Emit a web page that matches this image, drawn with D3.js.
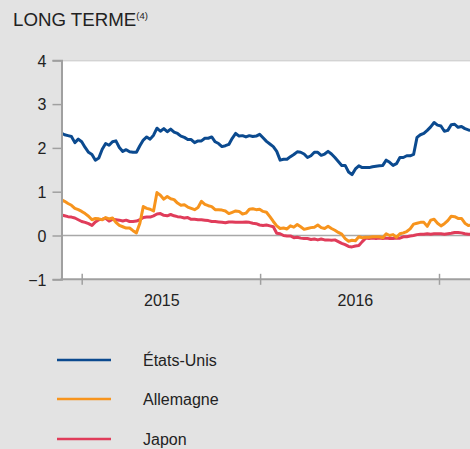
<!DOCTYPE html>
<html><head><meta charset="utf-8">
<script src="https://cdn.jsdelivr.net/npm/d3@7"></script>
<style>
body{margin:0;background:#e3e3e3;}
svg{display:block;font-family:"Liberation Sans",Arial,sans-serif;}
</style>
</head><body>
<svg id="c" width="470" height="449"></svg>
<script>
// weekly observations starting 2014-11-20
const startDate = "2014-11-20";
const stepDays = 7;
const usa = [2.34,2.30,2.28,2.26,2.12,2.20,2.14,2.01,1.90,1.85,1.72,1.77,1.97,2.10,2.06,2.14,2.16,2.01,1.92,1.96,
1.91,1.90,1.90,2.05,2.18,2.25,2.20,2.29,2.45,2.38,2.44,2.37,2.43,2.36,2.33,2.27,2.24,2.19,2.19,2.12,
2.16,2.16,2.22,2.22,2.25,2.14,2.10,2.03,2.05,2.08,2.22,2.33,2.27,2.28,2.25,2.28,2.26,2.27,2.31,2.23,
2.15,2.09,2.03,1.92,1.72,1.74,1.74,1.80,1.85,1.91,1.90,1.86,1.78,1.82,1.90,1.90,1.83,1.86,1.92,1.86,
1.78,1.69,1.60,1.60,1.45,1.39,1.52,1.59,1.55,1.55,1.55,1.57,1.58,1.59,1.60,1.72,1.67,1.60,1.64,1.78,
1.78,1.82,1.82,1.85,2.24,2.30,2.33,2.40,2.48,2.58,2.52,2.50,2.38,2.40,2.53,2.54,2.47,2.49,2.44,2.41,2.40];
const germany = [0.82,0.78,0.73,0.69,0.62,0.59,0.55,0.50,0.44,0.36,0.39,0.38,0.36,0.41,0.38,0.40,0.30,0.23,0.20,0.17,
0.17,0.11,0.06,0.28,0.66,0.62,0.60,0.56,0.98,0.92,0.83,0.89,0.84,0.82,0.74,0.69,0.70,0.65,0.62,0.59,
0.64,0.78,0.71,0.68,0.66,0.59,0.59,0.58,0.56,0.50,0.53,0.56,0.55,0.49,0.51,0.60,0.61,0.59,0.60,0.55,
0.53,0.43,0.32,0.22,0.16,0.17,0.15,0.22,0.19,0.25,0.20,0.14,0.16,0.18,0.19,0.24,0.18,0.16,0.21,0.16,
0.12,0.07,0.03,-0.07,-0.13,-0.11,-0.12,-0.03,-0.05,-0.04,-0.04,-0.03,-0.03,-0.03,-0.05,0.04,0.00,0.02,-0.04,0.04,
0.06,0.09,0.15,0.26,0.28,0.30,0.30,0.21,0.35,0.37,0.28,0.22,0.27,0.34,0.44,0.43,0.39,0.39,0.28,0.23,0.24];
const japan = [0.47,0.45,0.43,0.42,0.40,0.36,0.32,0.30,0.27,0.23,0.31,0.36,0.37,0.39,0.33,0.37,0.36,0.35,0.33,0.35,
0.32,0.32,0.33,0.36,0.41,0.42,0.42,0.45,0.49,0.50,0.46,0.45,0.48,0.45,0.43,0.42,0.40,0.41,0.37,0.37,
0.36,0.36,0.35,0.34,0.32,0.32,0.31,0.30,0.29,0.31,0.31,0.30,0.30,0.30,0.31,0.30,0.28,0.27,0.24,0.23,
0.24,0.22,0.20,0.05,0.04,0.00,-0.01,-0.01,-0.05,-0.04,-0.06,-0.07,-0.07,-0.09,-0.08,-0.10,-0.08,-0.10,-0.10,-0.11,
-0.10,-0.14,-0.18,-0.21,-0.25,-0.26,-0.24,-0.23,-0.14,-0.06,-0.07,-0.06,-0.07,-0.06,-0.07,-0.06,-0.07,-0.07,-0.06,-0.06,
-0.03,-0.03,-0.01,0.00,0.02,0.03,0.03,0.04,0.03,0.04,0.04,0.04,0.03,0.04,0.05,0.07,0.07,0.06,0.04,0.03,0.03];

const yTicks = [-1, 0, 1, 2, 3, 4];
const yearTicks = ["2015-01-01", "2016-01-01", "2017-01-01"];
const yearLabels = ["2015", "2016"];
const yearLabelDates = ["2015-06-14", "2016-07-14"];
const seriesNames = ["États-Unis", "Allemagne", "Japon"];
const seriesColors = ["#0b4a8f", "#f7941d", "#e03c5a"];
const titleText = "LONG TERME";
const titleNote = "(4)";

const parse = d3.utcParse("%Y-%m-%d");
const start = parse(startDate);
const dates = usa.map((_, i) => d3.utcDay.offset(start, i * stepDays));
const series = [usa, germany, japan];

const svg = d3.select("#c");
const plot = {left: 61.5, right: 470, top: 60.3, bottom: 279.3};

const x = d3.scaleUtc().domain([parse("2015-01-01"), parse("2017-01-01")]).range([81.7, 439]);
const y = d3.scaleLinear().domain([-1, 4]).range([plot.bottom, plot.top]);

// title
const t = svg.append("text").attr("x", 13).attr("y", 26).attr("fill", "#222")
  .style("font-size", "18.7px");
t.append("tspan").text(titleText);
t.append("tspan").attr("dy", -7).style("font-size", "9.5px").text(titleNote);

// plot background
svg.append("rect").attr("x", plot.left).attr("y", plot.top)
  .attr("width", plot.right - plot.left).attr("height", plot.bottom - plot.top).attr("fill", "#fff");

// top border
svg.append("line").attr("x1", plot.left).attr("x2", plot.right)
  .attr("y1", plot.top + 0.5).attr("y2", plot.top + 0.5).attr("stroke", "#c4c4c4").attr("stroke-width", 1);

// zero line
svg.append("line").attr("x1", plot.left).attr("x2", plot.right)
  .attr("y1", y(0)).attr("y2", y(0)).attr("stroke", "#a8a8a8").attr("stroke-width", 1.5);

// clip
svg.append("clipPath").attr("id", "clip").append("rect")
  .attr("x", plot.left + 1).attr("y", plot.top).attr("width", plot.right - plot.left).attr("height", plot.bottom - plot.top);

const line = d3.line().x((d, i) => x(dates[i])).y(d => y(d)).curve(d3.curveLinear);
const lines = svg.append("g").attr("clip-path", "url(#clip)");
[2, 1, 0].forEach(k => {
  lines.append("path").datum(series[k]).attr("d", line).attr("fill", "none")
    .attr("stroke", seriesColors[k]).attr("stroke-width", 3).attr("stroke-linejoin", "round");
});

// y axis
const ya = svg.append("g").attr("transform", `translate(${plot.left},0)`)
  .call(d3.axisLeft(y).tickValues(yTicks).tickFormat(d3.format("d")).tickSize(9).tickPadding(6));
ya.select(".domain").attr("stroke", "#a0a0a0").attr("stroke-width", 2);
ya.selectAll(".tick line").attr("stroke", "#a0a0a0").attr("stroke-width", 1.5);
ya.selectAll(".tick text").attr("fill", "#222").style("font-size", "16px")
  .style("font-family", '"Liberation Sans",Arial,sans-serif').attr("dy", "0.36em");

// x axis baseline
svg.append("line").attr("x1", plot.left - 1).attr("x2", plot.right)
  .attr("y1", plot.bottom).attr("y2", plot.bottom).attr("stroke", "#a0a0a0").attr("stroke-width", 2);
const xa = svg.append("g").attr("transform", `translate(0,${plot.bottom - 5.5})`)
  .call(d3.axisBottom(x).tickValues(yearTicks.map(parse)).tickSize(11).tickFormat(""));
xa.select(".domain").remove();
xa.selectAll(".tick line").attr("stroke", "#a0a0a0").attr("stroke-width", 1.5);

svg.append("g").selectAll("text").data(yearLabels).join("text")
  .attr("x", (d, i) => x(parse(yearLabelDates[i]))).attr("y", 306)
  .attr("text-anchor", "middle").attr("fill", "#222").style("font-size", "16px").text(d => d);

// legend
const legendY = [360, 399, 439];
const lg = svg.append("g");
seriesNames.forEach((name, i) => {
  lg.append("line").attr("x1", 57).attr("x2", 111).attr("y1", legendY[i]).attr("y2", legendY[i])
    .attr("stroke", seriesColors[i]).attr("stroke-width", 2.5);
  lg.append("text").attr("x", 143).attr("y", legendY[i] + 5.5).attr("fill", "#222")
    .style("font-size", "16px").text(name);
});
</script>
</body></html>
